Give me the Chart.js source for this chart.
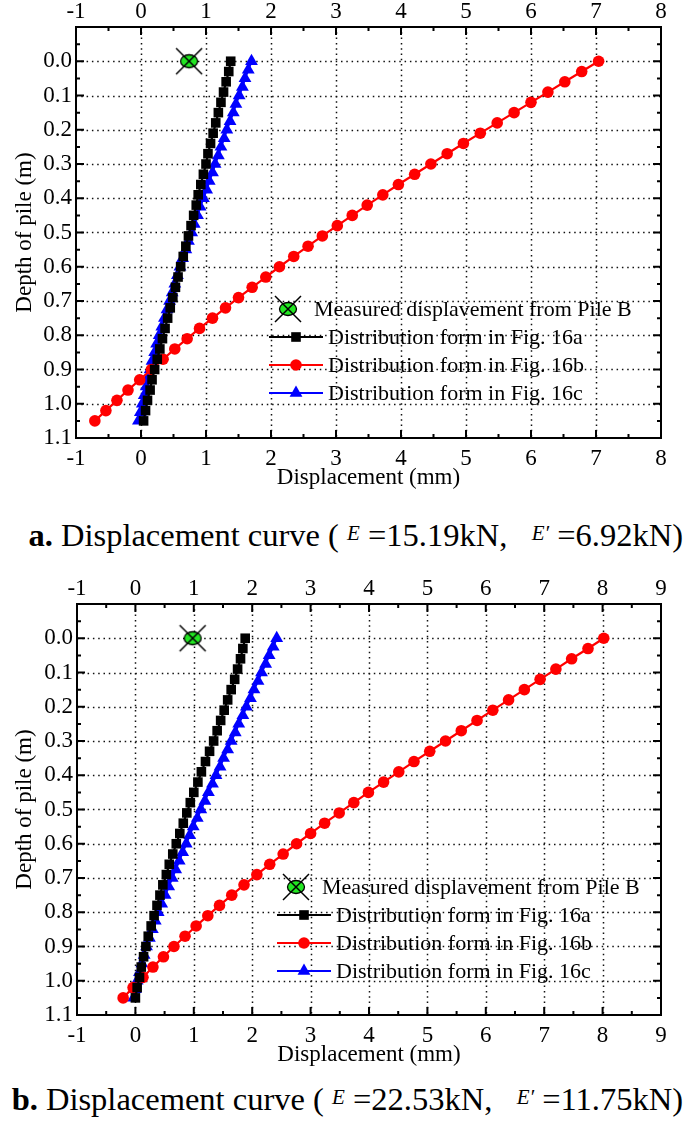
<!DOCTYPE html>
<html>
<head>
<meta charset="utf-8">
<script src="https://cdn.jsdelivr.net/npm/chart.js@4.4.1/dist/chart.umd.min.js"></script>
<style>
  html, body { margin: 0; padding: 0; background: #fff; }
  body { position: relative; width: 685px; height: 1134px; overflow: hidden; font-family: 'Liberation Serif', 'Times New Roman', serif; color: #000; }
  canvas { position: absolute; left: 0; }
  #chartA { top: 0; }
  #chartB { top: 577px; }
  .cap { position: absolute; right: 2px; font-size: 32.5px; line-height: 40px; white-space: nowrap; }
  .cap i { font-size: 21px; position: relative; top: -6px; }
  #capA { top: 515px; }
  #capB { top: 1079px; }
</style>
</head>
<body>
<canvas id="chartA" width="685" height="495"></canvas>
<div class="cap" id="capA"><b>a.</b> Displacement curve ( <i>E</i> =15.19kN,&nbsp;&nbsp; <i>E&prime;</i> =6.92kN)</div>
<canvas id="chartB" width="685" height="495"></canvas>
<div class="cap" id="capB"><b>b.</b> Displacement curve ( <i>E</i> =22.53kN,&nbsp;&nbsp; <i>E&prime;</i> =11.75kN)</div>

<script>
// depths along the pile (m)
const depth03 = [0, 0.03, 0.06, 0.09, 0.12, 0.15, 0.18, 0.21, 0.24, 0.27, 0.30, 0.33, 0.36, 0.39, 0.42, 0.45, 0.48, 0.51,
  0.54, 0.57, 0.60, 0.63, 0.66, 0.69, 0.72, 0.75, 0.78, 0.81, 0.84, 0.87, 0.90, 0.93, 0.96, 0.99, 1.02, 1.05];
const depth025 = [0, 0.025, 0.05, 0.075, 0.1, 0.125, 0.15, 0.175, 0.2, 0.225, 0.25, 0.275, 0.3, 0.325, 0.35, 0.375, 0.4,
  0.425, 0.45, 0.475, 0.5, 0.525, 0.55, 0.575, 0.6, 0.625, 0.65, 0.675, 0.7, 0.725, 0.75, 0.775, 0.8, 0.825, 0.85, 0.875,
  0.9, 0.925, 0.95, 0.975, 1.0, 1.025, 1.05];

// chart a - displacement (mm)
const measuredA = [0.74];
const dispA16a = [1.38, 1.35, 1.31, 1.27, 1.23, 1.19, 1.15, 1.11, 1.07, 1.03, 1.00, 0.96, 0.92, 0.88, 0.85, 0.81, 0.77, 0.73,
  0.69, 0.65, 0.61, 0.57, 0.53, 0.49, 0.45, 0.41, 0.37, 0.33, 0.29, 0.25, 0.21, 0.17, 0.14, 0.10, 0.07, 0.04];
const dispA16b = [7.04, 6.78, 6.52, 6.26, 6.00, 5.74, 5.48, 5.22, 4.96, 4.71, 4.46, 4.21, 3.96, 3.72, 3.48, 3.25, 3.02, 2.79,
  2.57, 2.35, 2.13, 1.92, 1.71, 1.50, 1.30, 1.10, 0.90, 0.71, 0.52, 0.34, 0.16, -0.02, -0.20, -0.37, -0.54, -0.71];
const dispA16c = [1.70, 1.65, 1.60, 1.56, 1.51, 1.46, 1.42, 1.37, 1.32, 1.28, 1.23, 1.19, 1.14, 1.10, 1.05, 1.01, 0.96, 0.91,
  0.87, 0.82, 0.78, 0.73, 0.69, 0.64, 0.60, 0.56, 0.52, 0.48, 0.44, 0.40, 0.36, 0.32, 0.28, 0.24, 0.21, 0.17, 0.14, 0.11,
  0.08, 0.05, 0.02, -0.01, -0.04];

// chart b - displacement (mm)
const measuredB = [0.98];
const dispB16a = [1.88, 1.84, 1.80, 1.75, 1.70, 1.64, 1.58, 1.52, 1.46, 1.40, 1.34, 1.27, 1.20, 1.13, 1.07, 1.00, 0.94, 0.88,
  0.82, 0.76, 0.70, 0.64, 0.58, 0.53, 0.47, 0.42, 0.37, 0.32, 0.27, 0.22, 0.18, 0.14, 0.10, 0.07, 0.03, 0.00];
const dispB16b = [8.02, 7.75, 7.47, 7.20, 6.93, 6.66, 6.39, 6.12, 5.85, 5.58, 5.31, 5.04, 4.77, 4.51, 4.25, 3.99, 3.74, 3.49,
  3.24, 3.00, 2.76, 2.53, 2.30, 2.08, 1.86, 1.65, 1.44, 1.24, 1.04, 0.85, 0.66, 0.48, 0.30, 0.13, -0.04, -0.21];
const dispB16c = [2.42, 2.36, 2.29, 2.23, 2.16, 2.10, 2.03, 1.97, 1.90, 1.84, 1.77, 1.71, 1.64, 1.58, 1.51, 1.45, 1.38, 1.32,
  1.25, 1.19, 1.12, 1.06, 0.99, 0.93, 0.87, 0.81, 0.75, 0.69, 0.63, 0.57, 0.51, 0.45, 0.39, 0.34, 0.29, 0.24, 0.19, 0.15,
  0.11, 0.07, 0.03, 0.00, -0.03];

// tick values
const xTicksA = [-1, 0, 1, 2, 3, 4, 5, 6, 7, 8];
const xMinorA = [-0.5, 0.5, 1.5, 2.5, 3.5, 4.5, 5.5, 6.5, 7.5];
const xTicksB = [-1, 0, 1, 2, 3, 4, 5, 6, 7, 8, 9];
const xMinorB = [-0.5, 0.5, 1.5, 2.5, 3.5, 4.5, 5.5, 6.5, 7.5, 8.5];
const yTicks = [0.0, 0.1, 0.2, 0.3, 0.4, 0.5, 0.6, 0.7, 0.8, 0.9, 1.0, 1.1];
const yMinor = [-0.05, 0.05, 0.15, 0.25, 0.35, 0.45, 0.55, 0.65, 0.75, 0.85, 0.95, 1.05];

const seriesNames = ['Measured displavement from Pile B', 'Distribution form in Fig. 16a',
  'Distribution form in Fig. 16b', 'Distribution form in Fig. 16c'];

const serif = "'Liberation Serif', 'Times New Roman', serif";

// green ellipse with a cross, used for the measured point
function measuredIcon() {
  const c = document.createElement('canvas');
  c.width = 30; c.height = 30;
  const g = c.getContext('2d');
  g.fillStyle = '#22e622';
  g.strokeStyle = '#000';
  g.lineWidth = 1.3;
  g.beginPath();
  g.ellipse(15, 15, 8.5, 6.5, 0, 0, Math.PI * 2);
  g.fill();
  g.stroke();
  g.lineWidth = 1.5;
  g.beginPath();
  g.moveTo(2, 2); g.lineTo(28, 28);
  g.moveTo(28, 2); g.lineTo(2, 28);
  g.stroke();
  return c;
}
const icon = measuredIcon();

function pts(xs, ys) {
  return xs.map((v, i) => ({ x: v, y: ys[i] }));
}

function drawMarker(ctx, ds, x, y) {
  const r = ds.pointRadius;
  ctx.fillStyle = ds.pointBackgroundColor;
  if (ds.pointStyle === 'rect') {
    const s = r * Math.SQRT1_2;
    ctx.fillRect(x - s, y - s, 2 * s, 2 * s);
  } else if (ds.pointStyle === 'circle') {
    ctx.beginPath(); ctx.arc(x, y, r, 0, Math.PI * 2); ctx.fill();
  } else if (ds.pointStyle === 'triangle') {
    ctx.beginPath();
    ctx.moveTo(x, y - r);
    ctx.lineTo(x + r * 0.866, y + r / 2);
    ctx.lineTo(x - r * 0.866, y + r / 2);
    ctx.closePath(); ctx.fill();
  } else {
    ctx.drawImage(ds.pointStyle, x - 15, y - 15);
  }
}

// dotted grid, frame and inward ticks
const frameAxes = {
  id: 'frameAxes',
  beforeDatasetsDraw(chart, args, o) {
    const { ctx, chartArea: a, scales: { x, y } } = chart;
    ctx.save();
    ctx.strokeStyle = '#111';
    ctx.lineWidth = 1.5;
    ctx.setLineDash([1.5, 3.8]);
    o.xMajor.forEach(v => {
      const px = Math.round(x.getPixelForValue(v)) + 0.5;
      if (px < a.left + 2 || px > a.right - 2) return;
      ctx.beginPath(); ctx.moveTo(px, a.top); ctx.lineTo(px, a.bottom); ctx.stroke();
    });
    o.yMajor.forEach(v => {
      const py = Math.round(y.getPixelForValue(v)) + 0.5;
      if (py < a.top + 2 || py > a.bottom - 2) return;
      ctx.beginPath(); ctx.moveTo(a.left, py); ctx.lineTo(a.right, py); ctx.stroke();
    });
    ctx.restore();
  },
  afterDatasetsDraw(chart, args, o) {
    const { ctx, chartArea: a, scales: { x, y } } = chart;
    ctx.save();
    ctx.strokeStyle = '#000';
    ctx.lineWidth = 2;
    ctx.strokeRect(a.left, a.top, a.right - a.left, a.bottom - a.top);
    const tickX = (v, len) => {
      const px = x.getPixelForValue(v);
      ctx.beginPath();
      ctx.moveTo(px, a.bottom); ctx.lineTo(px, a.bottom - len);
      ctx.moveTo(px, a.top); ctx.lineTo(px, a.top + len);
      ctx.stroke();
    };
    const tickY = (v, len) => {
      const py = y.getPixelForValue(v);
      ctx.beginPath();
      ctx.moveTo(a.left, py); ctx.lineTo(a.left + len, py);
      ctx.moveTo(a.right, py); ctx.lineTo(a.right - len, py);
      ctx.stroke();
    };
    o.xMajor.forEach(v => tickX(v, 8));
    o.xMinor.forEach(v => tickX(v, 4));
    o.yMajor.forEach(v => tickY(v, 8));
    o.yMinor.forEach(v => tickY(v, 4));
    ctx.restore();
  }
};

// legend drawn inside the plot
const boxLegend = {
  id: 'boxLegend',
  afterDraw(chart, args, o) {
    const ctx = chart.ctx;
    ctx.save();
    ctx.font = '22px ' + serif;
    ctx.textBaseline = 'middle';
    chart.data.datasets.forEach((ds, i) => {
      const yy = o.rows[i];
      let mid = o.x0 + o.lineLen / 2;
      let tx = o.x0 + o.lineLen + 5;
      if (ds.showLine) {
        ctx.strokeStyle = ds.borderColor;
        ctx.lineWidth = 2.2;
        ctx.beginPath(); ctx.moveTo(o.x0, yy); ctx.lineTo(o.x0 + o.lineLen, yy); ctx.stroke();
      } else {
        mid = o.x0 + 19;
        tx = mid + 26;
      }
      drawMarker(ctx, ds, mid, yy);
      ctx.fillStyle = '#000';
      ctx.fillText(ds.label, tx, yy + 1);
    });
    ctx.restore();
  }
};

function makeChart(id, measured, d16a, d16b, d16c, xMax, xMajor, xMinor, yAxisW, legendX, legendRows) {
  const tickFont = { family: serif, size: 23 };
  const titleFont = { family: serif, size: 23 };
  const hx = {
    type: 'linear', min: -1, max: xMax,
    grid: { display: false, drawTicks: false },
    border: { display: false },
    ticks: { stepSize: 1, color: '#000', font: tickFont, autoSkip: false, maxRotation: 0 }
  };
  return new Chart(document.getElementById(id), {
    type: 'scatter',
    data: {
      datasets: [
        { label: seriesNames[0], data: pts(measured, [0]), pointStyle: icon, pointRadius: 13,
          pointBackgroundColor: '#22e622', showLine: false },
        { label: seriesNames[1], data: pts(d16a, depth03), pointStyle: 'rect', pointRadius: 6.8,
          borderColor: '#000', backgroundColor: '#000', pointBackgroundColor: '#000', pointBorderWidth: 0,
          borderWidth: 2.2, showLine: true },
        { label: seriesNames[2], data: pts(d16b, depth03), pointStyle: 'circle', pointRadius: 5.8,
          borderColor: '#ff0000', backgroundColor: '#ff0000', pointBackgroundColor: '#ff0000', pointBorderWidth: 0,
          borderWidth: 2.2, showLine: true },
        { label: seriesNames[3], data: pts(d16c, depth025), pointStyle: 'triangle', pointRadius: 7.4,
          borderColor: '#0000ff', backgroundColor: '#0000ff', pointBackgroundColor: '#0000ff', pointBorderWidth: 0,
          borderWidth: 2.2, showLine: true }
      ]
    },
    options: {
      responsive: false,
      animation: false,
      layout: { padding: { left: 0, right: 685 - 661, top: 0, bottom: 0 } },
      plugins: {
        legend: { display: false },
        tooltip: { enabled: false },
        frameAxes: { xMajor: xMajor, xMinor: xMinor, yMajor: yTicks, yMinor: yMinor },
        boxLegend: { x0: legendX, lineLen: 54, rows: legendRows }
      },
      scales: {
        x: Object.assign({}, hx, {
          position: 'bottom',
          ticks: Object.assign({}, hx.ticks, { padding: 7 }),
          title: { display: true, text: 'Displacement (mm)', color: '#000', font: titleFont, padding: { top: 0, bottom: 3 } },
          afterFit: s => { s.height = 57; }
        }),
        xTop: Object.assign({}, hx, {
          position: 'top',
          ticks: Object.assign({}, hx.ticks, { padding: 1 }),
          afterFit: s => { s.height = 27; }
        }),
        y: {
          type: 'linear', reverse: true, min: -0.1, max: 1.1,
          grid: { display: false, drawTicks: false },
          border: { display: false },
          ticks: {
            stepSize: 0.1, color: '#000', font: tickFont, padding: 4, autoSkip: false,
            callback: v => v < -0.05 ? '' : (Math.round(v * 10) / 10).toFixed(1)
          },
          title: { display: true, text: 'Depth of pile (m)', color: '#000', font: titleFont, padding: { top: 11, bottom: 0 } },
          afterFit: s => { s.width = yAxisW; }
        }
      }
    },
    plugins: [frameAxes, boxLegend]
  });
}

makeChart('chartA', measuredA, dispA16a, dispA16b, dispA16c, 8, xTicksA, xMinorA, 76, 269, [309, 337, 365, 393]);
makeChart('chartB', measuredB, dispB16a, dispB16b, dispB16c, 9, xTicksB, xMinorB, 77, 277, [310, 338, 366, 394]);
</script>
</body>
</html>
